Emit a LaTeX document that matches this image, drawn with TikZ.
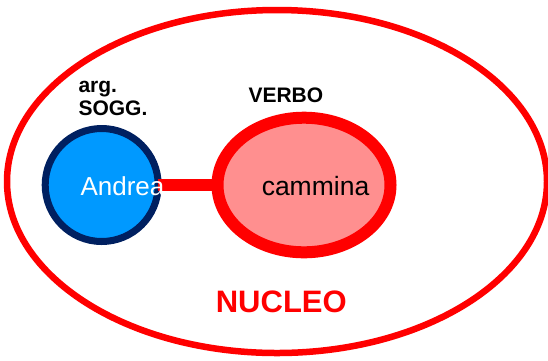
\documentclass[tikz,border=0pt]{standalone}
\usepackage{fontspec}
\setmainfont{Liberation Sans}
\usetikzlibrary{shapes.geometric}
\definecolor{argblue}{RGB}{0,153,255}
\definecolor{argnavy}{RGB}{0,32,96}
\definecolor{verbpink}{RGB}{255,143,143}
\begin{document}
\begin{tikzpicture}[line cap=round,line join=round,x=1pt,y=-1pt,
  shape node/.style={inner sep=0pt,outer sep=0pt},
  bold lbl/.style={font=\fontsize{21}{23}\selectfont\bfseries,anchor=base west,inner sep=0pt}]

\clip (0,0) rectangle (548,360);
\node[shape node,ellipse,draw=red,line width=6.5pt,minimum width=540pt,minimum height=343pt] (nucleo) at (277,181.5) {};
\node[shape node,circle,draw=argnavy,fill=argblue,line width=7pt,minimum size=113pt] (sogg) at (101.7,185) {};
\node[shape node,ellipse,draw=red,fill=verbpink,line width=12pt,minimum width=173pt,minimum height=134.6pt] (verbo) at (304,185) {};
\draw[red,line width=11.5pt,line cap=butt] (sogg) -- (verbo);
\node[font=\fontsize{26}{30}\selectfont,text=white,anchor=base,inner sep=0pt] (andrea) at (122.5,195) {Andrea};
\node[font=\fontsize{26.5}{30}\selectfont,anchor=base,inner sep=0pt] (cammina) at (315.5,195) {cammina};
\node[bold lbl] (arglbl) at (78.3,92) {arg.};
\node[bold lbl] (sogglbl) at (78.3,115) {SOGG.};
\node[bold lbl] (verbolbl) at (248.3,102.7) {VERBO};
\node[font=\fontsize{31}{36}\selectfont\bfseries,text=red,anchor=base,inner sep=0pt] (nucleolbl) at (281.3,312.7) {NUCLEO};
\end{tikzpicture}
\end{document}
